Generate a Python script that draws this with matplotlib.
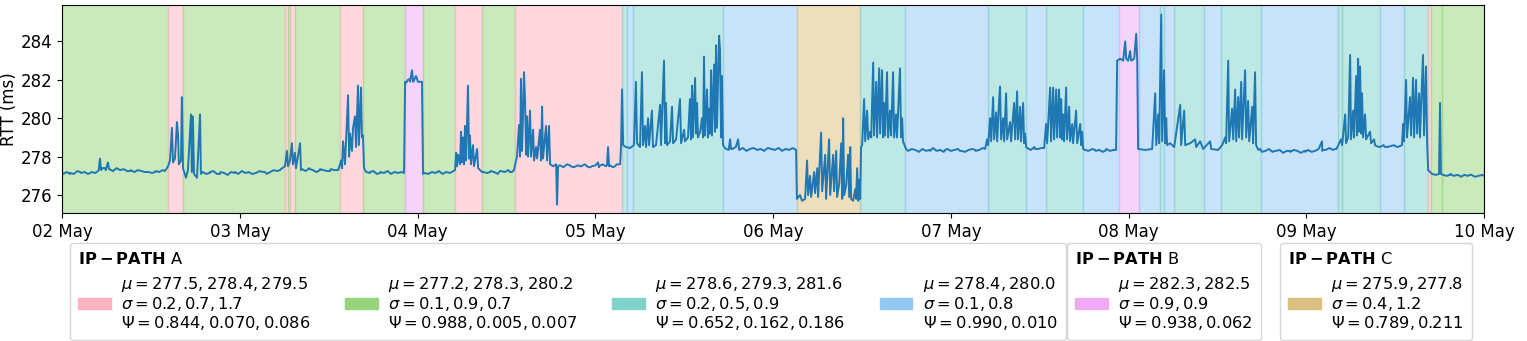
from datetime import datetime

import matplotlib

matplotlib.use("Agg")
import matplotlib.dates as mdates
import matplotlib.pyplot as plt
import numpy as np
from matplotlib.patches import Patch

START = datetime(2019, 5, 2)
END = datetime(2019, 5, 10)

# RTT samples: days since 02 May 00:00 and value in ms
rtt_days = [
    0.000, 0.043, 0.100, 0.156, 0.201, 0.212, 0.218, 0.240, 0.257, 0.263, 0.325, 0.381, 0.465, 0.522, 0.578,
    0.595, 0.606, 0.617, 0.623, 0.634, 0.645, 0.651, 0.656, 0.668, 0.673, 0.679, 0.696, 0.707, 0.724, 0.729,
    0.735, 0.741, 0.758, 0.775, 0.780, 0.831, 0.887, 0.972, 1.056, 1.141, 1.225, 1.253, 1.264, 1.270, 1.281,
    1.292, 1.298, 1.309, 1.315, 1.338, 1.343, 1.394, 1.450, 1.507, 1.552, 1.563, 1.569, 1.574, 1.580, 1.591,
    1.608, 1.614, 1.619, 1.630, 1.636, 1.647, 1.653, 1.658, 1.664, 1.669, 1.681, 1.686, 1.692, 1.698, 1.732,
    1.788, 1.872, 1.923, 1.929, 1.945, 1.957, 1.968, 1.973, 1.990, 2.001, 2.024, 2.030, 2.069, 2.126, 2.182,
    2.210, 2.216, 2.221, 2.227, 2.238, 2.244, 2.249, 2.255, 2.261, 2.266, 2.272, 2.283, 2.289, 2.294, 2.300,
    2.311, 2.317, 2.334, 2.340, 2.362, 2.407, 2.463, 2.519, 2.542, 2.553, 2.559, 2.570, 2.576, 2.581, 2.587,
    2.593, 2.598, 2.604, 2.610, 2.615, 2.621, 2.632, 2.638, 2.649, 2.655, 2.666, 2.672, 2.688, 2.694, 2.700,
    2.705, 2.722, 2.728, 2.739, 2.745, 2.762, 2.779, 2.784, 2.790, 2.857, 2.914, 2.970, 3.015, 3.021, 3.065,
    3.071, 3.077, 3.110, 3.139, 3.144, 3.150, 3.156, 3.172, 3.195, 3.217, 3.228, 3.234, 3.251, 3.262, 3.268,
    3.279, 3.285, 3.296, 3.302, 3.318, 3.324, 3.341, 3.364, 3.369, 3.386, 3.392, 3.397, 3.403, 3.420, 3.431,
    3.437, 3.454, 3.476, 3.482, 3.499, 3.504, 3.521, 3.532, 3.538, 3.544, 3.549, 3.561, 3.566, 3.572, 3.577,
    3.589, 3.600, 3.606, 3.611, 3.617, 3.628, 3.634, 3.639, 3.645, 3.651, 3.656, 3.668, 3.673, 3.679, 3.684,
    3.696, 3.701, 3.707, 3.712, 3.718, 3.735, 3.758, 3.763, 3.803, 3.808, 3.870, 3.955, 4.039, 4.129, 4.134,
    4.151, 4.163, 4.180, 4.191, 4.197, 4.208, 4.214, 4.231, 4.236, 4.248, 4.253, 4.270, 4.276, 4.293, 4.298,
    4.315, 4.321, 4.338, 4.343, 4.355, 4.360, 4.372, 4.383, 4.389, 4.394, 4.400, 4.411, 4.422, 4.428, 4.434,
    4.439, 4.450, 4.462, 4.467, 4.473, 4.479, 4.484, 4.490, 4.495, 4.501, 4.512, 4.518, 4.529, 4.535, 4.546,
    4.552, 4.563, 4.568, 4.580, 4.585, 4.597, 4.602, 4.613, 4.619, 4.624, 4.630, 4.641, 4.647, 4.658, 4.664,
    4.675, 4.681, 4.692, 4.697, 4.714, 4.720, 4.726, 4.731, 4.748, 4.799, 4.883, 4.968, 5.052, 5.137, 5.193,
    5.204, 5.210, 5.221, 5.227, 5.238, 5.244, 5.255, 5.261, 5.272, 5.277, 5.283, 5.294, 5.300, 5.311, 5.317,
    5.333, 5.339, 5.356, 5.362, 5.373, 5.378, 5.390, 5.395, 5.407, 5.412, 5.418, 5.424, 5.474, 5.525, 5.536,
    5.542, 5.559, 5.564, 5.576, 5.581, 5.593, 5.598, 5.609, 5.615, 5.621, 5.626, 5.632, 5.637, 5.649, 5.654,
    5.666, 5.671, 5.683, 5.688, 5.705, 5.711, 5.728, 5.733, 5.739, 5.745, 5.812, 5.868, 5.930, 5.936, 5.953,
    5.970, 5.981, 5.987, 5.998, 6.009, 6.015, 6.032, 6.043, 6.049, 6.054, 6.094, 6.133, 6.150, 6.156, 6.167,
    6.172, 6.184, 6.189, 6.200, 6.206, 6.212, 6.217, 6.234, 6.257, 6.291, 6.296, 6.313, 6.319, 6.347, 6.375,
    6.381, 6.403, 6.420, 6.459, 6.465, 6.504, 6.527, 6.544, 6.549, 6.561, 6.566, 6.583, 6.589, 6.600, 6.606,
    6.617, 6.622, 6.634, 6.639, 6.656, 6.662, 6.673, 6.679, 6.696, 6.701, 6.712, 6.718, 6.741, 6.825, 6.910,
    6.994, 7.050, 7.089, 7.095, 7.162, 7.196, 7.202, 7.219, 7.224, 7.236, 7.247, 7.252, 7.264, 7.269, 7.281,
    7.286, 7.292, 7.297, 7.303, 7.309, 7.314, 7.320, 7.331, 7.337, 7.359, 7.365, 7.382, 7.387, 7.443, 7.500,
    7.539, 7.545, 7.550, 7.562, 7.567, 7.584, 7.590, 7.601, 7.607, 7.618, 7.624, 7.635, 7.640, 7.657, 7.663,
    7.674, 7.680, 7.686, 7.708, 7.730, 7.747, 7.753, 7.758, 7.809, 7.865, 7.921, 8.000,
]
rtt_ms = [
    277.15, 277.1, 277.2, 277.15, 277.25, 277.9, 277.3, 277.4, 277.7, 277.35, 277.3, 277.25, 277.2, 277.2, 277.25,
    277.5, 277.8, 279.5, 277.7, 277.9, 279.8, 279.2, 277.6, 277.8, 281.1, 277.4, 276.9, 277.3, 280.2, 277.2,
    280.1, 277.1, 276.9, 280.2, 277.1, 277.2, 277.1, 277.2, 277.15, 277.2, 277.3, 277.5, 278.3, 277.5, 277.8,
    278.7, 277.6, 278.2, 277.4, 278.7, 277.3, 277.35, 277.3, 277.25, 277.3, 277.6, 277.8, 277.4, 278.8, 277.6,
    281.2, 278.0, 279.2, 278.3, 279.5, 280.1, 278.5, 280.0, 281.7, 278.6, 281.6, 279.0, 279.1, 277.4, 277.2,
    277.15, 277.2, 277.15, 281.9, 282.0, 281.9, 282.5, 282.0, 282.2, 281.9, 281.9, 277.1, 277.15, 277.2, 277.15,
    277.3, 278.2, 277.5, 278.1, 277.6, 279.3, 277.7, 279.0, 277.6, 279.6, 277.8, 281.7, 277.9, 279.1, 277.6,
    278.6, 277.5, 278.4, 277.4, 277.2, 277.2, 277.25, 277.2, 277.3, 277.8, 278.0, 279.65, 278.0, 282.05, 278.3,
    280.4, 282.4, 280.9, 278.1, 280.1, 278.0, 280.4, 278.0, 279.4, 277.8, 278.5, 277.9, 279.4, 277.8, 280.6,
    277.9, 279.6, 277.8, 279.6, 277.6, 277.5, 277.6, 275.5, 277.5, 277.55, 277.5, 277.45, 277.7, 277.5, 277.55,
    278.5, 277.5, 277.5, 277.6, 278.5, 281.5, 278.6, 278.5, 278.45, 278.6, 281.9, 278.7, 278.5, 282.4, 278.6,
    279.6, 278.5, 280.0, 278.6, 280.4, 278.5, 278.6, 280.7, 278.6, 283.0, 278.7, 280.8, 278.6, 278.8, 280.6,
    278.7, 278.9, 281.0, 278.7, 279.4, 278.8, 279.0, 281.0, 278.9, 281.7, 279.0, 282.1, 279.2, 280.8, 279.0,
    279.3, 280.0, 279.0, 283.2, 279.1, 281.5, 279.0, 280.5, 279.2, 282.5, 279.1, 282.8, 279.3, 283.8, 279.5,
    284.3, 283.6, 279.0, 282.2, 278.6, 278.4, 278.9, 278.4, 278.9, 278.4, 278.4, 278.35, 278.4, 278.35, 275.8,
    276.0, 275.7, 275.8, 277.8, 276.0, 277.0, 275.9, 277.2, 276.1, 277.4, 275.9, 279.25, 276.2, 278.1, 275.8,
    278.9, 276.0, 278.1, 276.2, 278.3, 275.9, 276.6, 278.7, 275.8, 280.0, 276.0, 276.5, 278.1, 275.9, 278.5,
    275.8, 275.7, 276.3, 275.8, 277.4, 275.7, 276.8, 275.8, 278.5, 278.6, 281.0, 278.8, 280.4, 278.9, 279.3,
    279.0, 282.9, 279.1, 281.9, 279.0, 282.6, 279.2, 282.5, 279.0, 280.8, 279.1, 282.4, 279.0, 280.4, 279.1,
    282.4, 279.0, 280.2, 279.0, 282.6, 279.0, 280.0, 278.8, 278.4, 278.35, 278.3, 278.35, 278.3, 278.35, 278.4,
    278.9, 278.6, 280.0, 278.8, 281.1, 278.9, 280.3, 278.8, 281.0, 281.65, 278.9, 280.0, 278.8, 281.3, 278.9,
    279.8, 278.8, 280.8, 278.9, 281.4, 278.9, 280.6, 278.8, 280.8, 278.7, 279.2, 278.5, 278.4, 278.45, 279.7,
    278.7, 281.6, 278.8, 281.6, 278.9, 281.5, 279.0, 281.5, 279.0, 281.0, 278.9, 280.2, 278.8, 281.6, 278.9,
    280.6, 278.8, 279.7, 278.7, 280.4, 278.7, 279.7, 278.6, 279.3, 278.4, 278.35, 278.3, 278.35, 283.0, 283.1,
    283.0, 284.0, 283.1, 283.0, 283.5, 283.0, 283.1, 284.4, 283.0, 278.4, 278.35, 278.4, 281.3, 278.6, 280.2,
    278.7, 285.4, 278.8, 282.5, 278.7, 280.0, 278.6, 278.7, 278.5, 280.7, 278.6, 280.4, 278.6, 278.7, 278.9,
    278.5, 278.8, 278.4, 278.8, 278.4, 278.35, 278.6, 279.0, 278.7, 283.0, 278.8, 280.5, 278.9, 281.5, 278.8,
    281.1, 279.0, 281.9, 278.9, 282.5, 279.0, 280.9, 278.8, 280.6, 278.7, 282.4, 278.6, 278.4, 278.3, 278.3,
    278.25, 278.3, 278.8, 278.35, 278.4, 278.9, 278.6, 280.2, 278.7, 279.0, 283.3, 278.9, 280.4, 279.0, 282.2,
    279.1, 283.1, 279.3, 282.7, 279.2, 281.3, 279.0, 280.2, 278.9, 279.3, 278.7, 278.9, 278.6, 278.5, 278.55,
    278.6, 279.7, 278.8, 282.0, 279.0, 281.1, 279.1, 282.1, 279.0, 282.0, 279.2, 281.3, 279.0, 283.3, 279.1,
    282.7, 278.8, 277.3, 277.1, 277.05, 277.1, 280.8, 277.1, 277.05, 277.0, 277.05, 277.0,
]

# flat stretches sampled every 0.02 day: (first day, values)
BASE_STEP = 0.02
base_stretches = [
    (0.005, [277.1, 277.2, 277.15, 277.1, 277.25, 277.15, 277.2, 277.1, 277.2, 277.15,
             277.3, 277.4, 277.3, 277.35, 277.25, 277.4, 277.3, 277.35, 277.25, 277.3, 277.2, 277.3, 277.25, 277.2,
             277.2, 277.15, 277.25, 277.2, 277.3]),
    (0.79, [277.2, 277.1, 277.15, 277.25, 277.1, 277.2, 277.15, 277.05, 277.2, 277.15, 277.1, 277.25,
            277.15, 277.2, 277.1, 277.15, 277.25, 277.2, 277.1, 277.2, 277.3, 277.25, 277.35]),
    (1.35, [277.35, 277.25, 277.4, 277.3, 277.2, 277.35, 277.3, 277.25, 277.35, 277.3]),
    (1.71, [277.2, 277.15, 277.25, 277.1, 277.2, 277.15, 277.25, 277.1, 277.2, 277.15, 277.2]),
    (1.935, [281.85, 282.05, 281.9, 282.1, 281.9]),
    (2.04, [277.15, 277.1, 277.2, 277.15, 277.25, 277.1, 277.2, 277.15]),
    (2.37, [277.2, 277.15, 277.25, 277.2, 277.1, 277.25, 277.2, 277.3, 277.2]),
    (2.80, [277.55, 277.45, 277.6, 277.5, 277.45, 277.55, 277.5, 277.6, 277.45, 277.5, 277.55, 277.45,
            277.6, 277.5, 277.55, 277.45, 277.6]),
    (3.73, [278.45, 278.35, 278.4, 278.5, 278.35, 278.45, 278.3, 278.4, 278.45, 278.35, 278.4, 278.3,
            278.45, 278.4, 278.35, 278.45, 278.3, 278.4, 278.35, 278.45]),
    (4.76, [278.3, 278.4, 278.35, 278.25, 278.4, 278.3, 278.35, 278.45, 278.3, 278.35, 278.25, 278.4,
            278.3, 278.35, 278.4, 278.3, 278.25, 278.35, 278.4, 278.3, 278.35, 278.45]),
    (5.43, [278.45, 278.35, 278.5, 278.4, 278.45]),
    (5.755, [278.35, 278.3, 278.4, 278.3, 278.35, 278.25, 278.4, 278.3, 278.35]),
    (6.73, [278.35, 278.25, 278.3, 278.4, 278.25, 278.3, 278.35, 278.2, 278.3, 278.25, 278.35, 278.3,
            278.2, 278.3, 278.35, 278.25, 278.3, 278.4, 278.3, 278.35, 278.45, 278.35, 278.4]),
    (7.395, [278.55, 278.5, 278.6, 278.5, 278.55, 278.6, 278.5]),
    (7.77, [277.05, 277.0, 277.1, 277.0, 277.05, 276.95, 277.05, 277.0, 277.05, 276.95, 277.0, 277.05]),
]

# state segments: start (days since 02 May) and state name
seg_start = [
    0.000, 0.597, 0.681, 1.253, 1.272, 1.281, 1.310, 1.563, 1.690, 1.929, 2.031, 2.210, 2.360, 2.548, 3.148,
    3.177, 3.212, 3.720, 4.136, 4.489, 4.742, 5.211, 5.423, 5.536, 5.746, 5.944, 6.059, 6.177, 6.200, 6.256,
    6.425, 6.523, 6.743, 7.179, 7.199, 7.415, 7.548, 7.688, 7.702, 7.764,
]
seg_state = [
    "A1", "A0", "A1", "A0", "A1", "A0", "A1", "A0", "A1", "B0", "A1", "A0", "A1", "A0", "A2",
    "A3", "A2", "A3", "C0", "A2", "A3", "A2", "A3", "A2", "A3", "B0", "A3", "A2", "A3", "A2",
    "A3", "A2", "A3", "A2", "A2", "A3", "A2", "A0", "A1", "A1",
]

state_colors = {
    "A0": "#ffb3c1",
    "A1": "#97d47c",
    "A2": "#7fd3c9",
    "A3": "#92c8f5",
    "B0": "#eeaaf5",
    "C0": "#dcc07f",
}

path_states = {"A": ["A0", "A1", "A2", "A3"], "B": ["B0"], "C": ["C0"]}
state_mu = {
    "A0": "277.5, 278.4, 279.5", "A1": "277.2, 278.3, 280.2", "A2": "278.6, 279.3, 281.6",
    "A3": "278.4, 280.0", "B0": "282.3, 282.5", "C0": "275.9, 277.8",
}
state_sigma = {
    "A0": "0.2, 0.7, 1.7", "A1": "0.1, 0.9, 0.7", "A2": "0.2, 0.5, 0.9",
    "A3": "0.1, 0.8", "B0": "0.9, 0.9", "C0": "0.4, 1.2",
}
state_psi = {
    "A0": "0.844, 0.070, 0.086", "A1": "0.988, 0.005, 0.007", "A2": "0.652, 0.162, 0.186",
    "A3": "0.990, 0.010", "B0": "0.938, 0.062", "C0": "0.789, 0.211",
}

FS = 12
LEG_FS = 11.7

fig = plt.figure(figsize=(15.27, 3.41), dpi=100)
ax = fig.add_axes([0.0408, 0.3745, 0.9310, 0.6109])

t0 = mdates.date2num(START)
ends = seg_start[1:] + [8.0]
for s, e, st in zip(seg_start, ends, seg_state):
    c = state_colors[st]
    ax.axvspan(t0 + s, t0 + e, facecolor=c, edgecolor=c, alpha=0.5, lw=1, zorder=0)

# merge the spike samples with the flat-stretch samples in time order
days = list(rtt_days)
vals = list(rtt_ms)
for first, stretch in base_stretches:
    days += [first + i * BASE_STEP for i in range(len(stretch))]
    vals += stretch
order = np.argsort(days, kind="stable")
days = np.asarray(days)[order]
vals = np.asarray(vals)[order]

ax.plot(t0 + days, vals, color="#1f77b4", lw=1.4, zorder=2)

ax.set_xlim(START, END)
ax.set_ylim(275.05, 285.9)
ax.set_yticks([276, 278, 280, 282, 284])
ax.xaxis.set_major_locator(mdates.DayLocator())
ax.xaxis.set_major_formatter(mdates.DateFormatter("%d %b"))
ax.tick_params(labelsize=FS)
ax.set_ylabel("RTT (ms)", fontsize=FS)
ax.yaxis.set_label_coords(-0.031, 0.5)


def _label(st):
    return "\n".join([
        rf"$\mu = {state_mu[st]}$",
        rf"$\sigma = {state_sigma[st]}$",
        rf"$\Psi = {state_psi[st]}$",
    ])


legend_pos = {
    "A": (70 / 1527, 0.0, 996 / 1527, 1 - 243 / 341),
    "B": (1067 / 1527, 1 - 243 / 341),
    "C": (1280 / 1527, 1 - 243 / 341),
}
for path, states in path_states.items():
    handles = [Patch(facecolor=state_colors[s], edgecolor=state_colors[s]) for s in states]
    labels = [_label(s) for s in states]
    kw = dict(mode="expand") if len(states) > 1 else {}
    leg = fig.legend(
        handles,
        labels,
        loc="upper left",
        bbox_to_anchor=legend_pos[path],
        ncol=len(states),
        fontsize=LEG_FS,
        title=rf"$\mathbf{{IP-PATH}}$ {path}",
        title_fontsize=LEG_FS,
        alignment="left",
        borderaxespad=0,
        handletextpad=0.65,
        borderpad=0.5,
        **kw,
    )
    for txt in leg.get_texts():
        txt.set_linespacing(1.05)

fig.savefig("out.png", dpi=100)
